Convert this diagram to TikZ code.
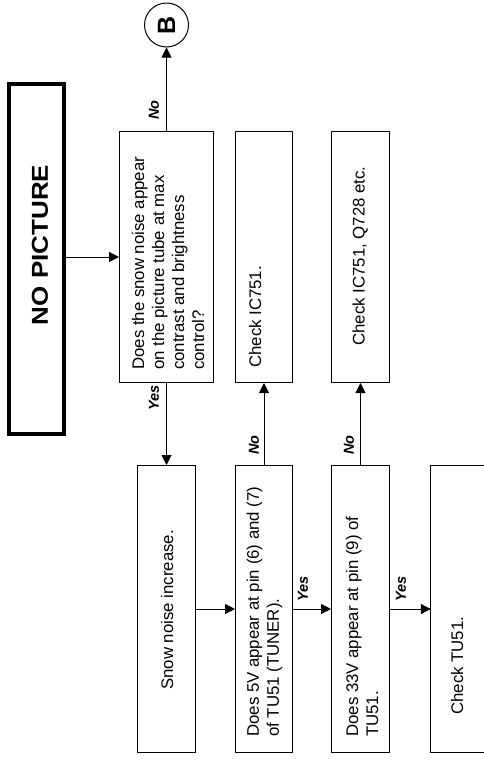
\documentclass[tikz,border=0pt]{standalone}
\usepackage{fontspec}
\usepackage{graphicx}
\setmainfont{Liberation Sans}
\usetikzlibrary{arrows.meta}
\begin{document}
\begin{tikzpicture}[x=1pt,y=-1pt,
  box/.style={draw, line width=1pt, inner sep=0pt, rectangle},
  txt/.style={rotate=90, inner sep=0pt, font=\fontsize{16.8}{20}\selectfont, align=left},
  lbl/.style={rotate=90, inner sep=0pt, font=\fontsize{14.5}{16}\selectfont\bfseries\itshape},
  arr/.style={line width=1pt, -{Triangle[length=10pt,width=10pt]}}
]
\fill[white] (0,0) rectangle (484,761);
\useasboundingbox (0,0) rectangle (484,761);

% start box
\node[box, line width=4pt, minimum width=55pt, minimum height=350pt] (np) at (36.5,259) {};
\node[rotate=90, inner sep=0pt, font=\fontsize{23}{26}\selectfont\bfseries] (npt) at (40,245) {\scalebox{1.13}[1]{NO PICTURE}};

% connector circle
\node[circle, draw, line width=1pt, minimum size=44pt, inner sep=0pt, rotate=90,
      font=\fontsize{25}{27}\selectfont\bfseries] (B) at (166.5,25) {B};

% boxes
\node[box, minimum width=94pt, minimum height=251pt] (q1) at (166.5,257) {};
\node[box, minimum width=57pt, minimum height=251pt] (ic) at (264,257) {};
\node[box, minimum width=58pt, minimum height=251pt] (q728) at (360.5,257) {};
\node[box, minimum width=58pt, minimum height=287pt] (snow) at (166.5,609) {};
\node[box, minimum width=57pt, minimum height=287pt] (q5v) at (264,609) {};
\node[box, minimum width=58pt, minimum height=287pt] (q33) at (360.5,609) {};
\node[inner sep=0pt, minimum width=60pt, minimum height=287pt] (tu) at (461,609) {};
\draw[line width=1pt] (tu.north east) -- (tu.north west) -- (tu.south west) -- (tu.south east);

% texts
\node[txt, anchor=west] (q1t) at (168,370) {Does the snow noise appear\\on the picture tube at max\\contrast and brightness\\control?};
\node[txt, anchor=west] (ict) at (255,368) {Check IC751.};
\node[txt] (q728t) at (360,256) {Check IC751, Q728 etc.};
\node[txt] (snowt) at (167,610) {Snow noise increase.};
\node[txt, anchor=west] (q5vt) at (264.5,737) {Does 5V appear at pin (6) and (7)\\of TU51 (TUNER).};
\node[txt, anchor=west] (q33t) at (362,737) {Does 33V appear at pin (9) of\\TU51.};
\node[txt, anchor=west] (tut) at (457,715) {Check TU51.};

% connectors
\draw[arr] (q1.west -| np.east) -- (q1.west);
\draw[arr] (q1.north) -- (B.west);
\draw[arr] (q1.south) -- (snow.north);
\draw[arr] (snow.east) -- (q5v.west);
\draw[arr] (q5v.north) -- (ic.south);
\draw[arr] (q5v.east) -- (q33.west);
\draw[arr] (q33.north) -- (q728.south);
\draw[arr] (q33.east) -- (tu.west);

% labels
\node[lbl] (l1) at (154,110) {No};
\node[lbl] (l2) at (154,398) {Yes};
\node[lbl] (l3) at (254,445) {No};
\node[lbl] (l4) at (349,445) {No};
\node[lbl] (l5) at (303,589) {Yes};
\node[lbl] (l6) at (401,589) {Yes};
\end{tikzpicture}
\end{document}
